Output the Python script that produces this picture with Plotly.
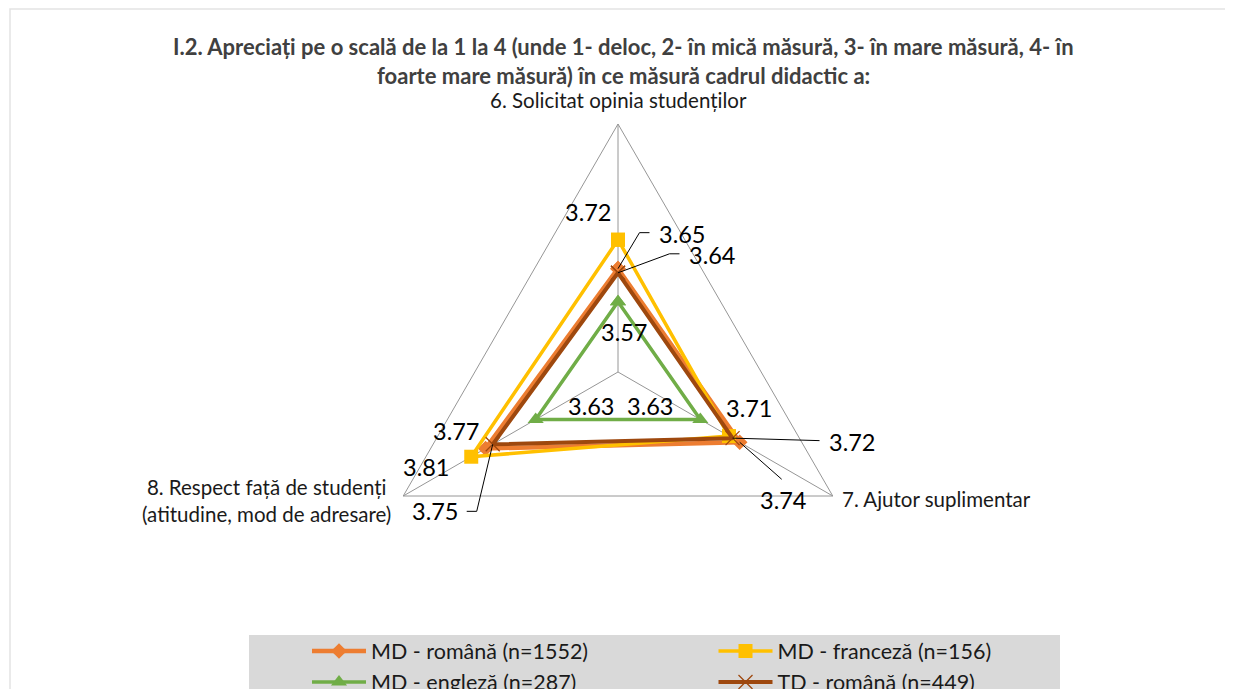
import math
import plotly.graph_objects as go

# ---------------- data ----------------
categories = [
    "6. Solicitat opinia studenților",
    "7. Ajutor suplimentar",
    "8. Respect față de studenți<br>(atitudine, mod de adresare)",
]
series_names = [
    "MD - română (n=1552)",
    "MD - franceză (n=156)",
    "MD - engleză (n=287)",
    "TD - română (n=449)",
]
md_romana = [3.65, 3.74, 3.77]
md_franceza = [3.72, 3.71, 3.81]
md_engleza = [3.57, 3.63, 3.63]
td_romana = [3.64, 3.72, 3.75]

title_lines = [
    "I.2. Apreciați pe o scală de la 1 la 4 (unde 1- deloc, 2- în mică măsură, 3- în mare măsură, 4- în",
    "foarte mare măsură) în ce măsură cadrul didactic a:",
]
radial_range = [3.4, 4.0]

# ---------------- style / layout ----------------
colors = ["#ED7D31", "#FFC000", "#70AD47", "#9E480E"]
symbols = ["diamond", "square", "triangle-up", "x-thin"]
msizes = [12, 14, 14, 14]
lwidths = [4.5, 3.5, 3.5, 4.0]
FONT = "Lato"

W, H = 1233, 689
OFF = 8            # page body margin of the browser
ML, MR = 210, 210
GW = W - ML - MR
# geometry in window pixels
CX, CY, RPX = 618, 372, 248
RMIN, RMAX = radial_range


def to_px(r, i):
    d = (r - RMIN) / (RMAX - RMIN) * RPX
    a = math.radians(90 - 120 * i)
    return CX + d * math.cos(a), CY - d * math.sin(a)


def pp(x, y):
    """window pixel -> paper fraction"""
    return (x - OFF - ML) / GW, 1 - (y - OFF) / H


all_series = [md_romana, md_franceza, md_engleza, td_romana]

fig = go.Figure()
for name, vals, c, s, ms, lw in zip(series_names, all_series, colors, symbols, msizes, lwidths):
    marker = dict(symbol=s, size=ms, color=c)
    if s == "x-thin":
        marker["line"] = dict(color=c, width=1.3)
    fig.add_trace(go.Scatterpolar(
        r=vals + vals[:1],
        theta=categories + categories[:1],
        mode="lines+markers",
        name=name,
        line=dict(color=c, width=lw),
        marker=marker,
        hoverinfo="skip",
    ))

# label offsets (px) from each data point and leader kind
label_offsets = [
    [(63.5, -35, "L"), (43, 58, "T"), (-30, -17, None)],
    [(-30.5, -28, None), (20, -28, None), (-45.5, 10.5, None)],
    [(5.5, 30, None), (-50, -13.5, None), (55, -13.5, None)],
    [(93.5, -18, "L"), (119, 3.5, "S"), (-58, 67, "R")],
]

annotations = []
shapes = []
for vals, offs in zip(all_series, label_offsets):
    for i, (v, (dx, dy, kind)) in enumerate(zip(vals, offs)):
        px, py = to_px(v, i)
        lx, ly = px + dx, py + dy
        x, y = pp(lx, ly)
        annotations.append(dict(x=x, y=y, xref="paper", yref="paper", text=f"{v:.2f}",
                                showarrow=False, xanchor="center", yanchor="middle",
                                font=dict(family=FONT, size=23.5, color="#000000")))
        pts = None
        if kind == "L":
            pts = [(px, py), (lx - 42, ly - 1), (lx - 32, ly - 1)]
        elif kind == "R":
            pts = [(px, py), (lx + 42, ly), (lx + 32, ly)]
        elif kind == "S":
            pts = [(px, py), (lx - 32, ly - 1)]
        elif kind == "T":
            pts = [(px, py), (lx - 1, ly - 21)]
        if pts:
            path = " ".join(("M" if k == 0 else "L") + " {:.5f},{:.5f}".format(*pp(a, b))
                            for k, (a, b) in enumerate(pts))
            shapes.append(dict(type="path", path=path, xref="paper", yref="paper",
                               line=dict(color="#000000", width=1), layer="above"))

# category labels
CAT_FONT = dict(family=FONT, size=20.5, color="#1a1a1a")
vx, vy = to_px(RMAX, 0)
x, y = pp(vx, vy - 24)
annotations.append(dict(x=x, y=y, xref="paper", yref="paper", text=categories[0], showarrow=False,
                        xanchor="center", yanchor="middle", font=CAT_FONT))
vx, vy = to_px(RMAX, 1)
x, y = pp(vx + 7, vy + 3)
annotations.append(dict(x=x, y=y, xref="paper", yref="paper", text=categories[1], showarrow=False,
                        xanchor="left", yanchor="middle", font=CAT_FONT))
vx, vy = to_px(RMAX, 2)
x, y = pp(vx - 10, vy + 4)
annotations.append(dict(x=x, y=y, xref="paper", yref="paper", text=categories[2], showarrow=False,
                        xanchor="right", yanchor="middle", align="center", font=CAT_FONT))

# title
for t, ty in zip(title_lines, [46, 75]):
    x, y = pp(623, ty)
    annotations.append(dict(x=x, y=y, xref="paper", yref="paper", text=t, showarrow=False,
                            xanchor="center", yanchor="middle",
                            font=dict(family=FONT, size=22, color="#404040", weight="bold")))

# legend background and chart border
x0, y0 = pp(249, 635)
x1, y1 = pp(1060, 740)
shapes.append(dict(type="rect", xref="paper", yref="paper", x0=x0, y0=y0, x1=x1, y1=y1,
                   fillcolor="#D9D9D9", line=dict(width=0), layer="below"))
x0, y0 = pp(10, 9)
x1, y1 = pp(1300, 780)
shapes.append(dict(type="rect", xref="paper", yref="paper", x0=x0, y0=y0, x1=x1, y1=y1,
                   fillcolor="rgba(0,0,0,0)", line=dict(color="#E3E3E3", width=1.5), layer="below"))

lgx, lgy = pp(307, 630.5)
fig.update_layout(
    width=W, height=H,
    margin=dict(l=ML, r=MR, t=0, b=0, autoexpand=False),
    paper_bgcolor="white",
    showlegend=True,
    polar=dict(
        domain=dict(x=[(CX - OFF - RPX - ML) / GW, (CX - OFF + RPX - ML) / GW],
                    y=[(H - (CY - OFF) - RPX) / H, (H - (CY - OFF) + RPX) / H]),
        gridshape="linear",
        bgcolor="rgba(0,0,0,0)",
        radialaxis=dict(range=radial_range, showgrid=False, showline=False,
                        showticklabels=False, ticks=""),
        angularaxis=dict(rotation=90, direction="clockwise", showline=True,
                         linecolor="#969696", linewidth=1, showgrid=True,
                         gridcolor="#969696", gridwidth=1, showticklabels=False, ticks=""),
    ),
    legend=dict(
        orientation="h",
        x=lgx, xanchor="left",
        y=lgy, yanchor="top",
        entrywidthmode="fraction", entrywidth=0.5,
        itemwidth=54,
        bgcolor="rgba(0,0,0,0)",
        font=dict(family=FONT, size=21.5, color="#1a1a1a"),
        traceorder="normal",
    ),
    annotations=annotations,
    shapes=shapes,
)

fig.write_html("out.html")
